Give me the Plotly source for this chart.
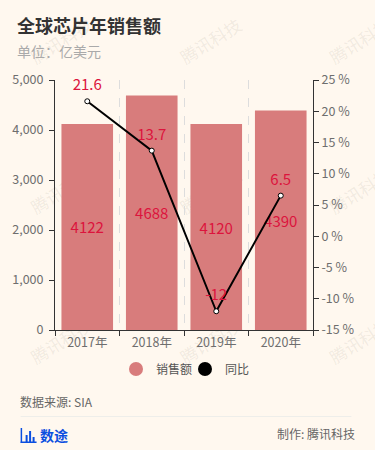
import plotly.graph_objects as go

categories = ["2017年", "2018年", "2019年", "2020年"]
sales = [4122, 4688, 4120, 4390]
yoy = [21.6, 13.7, -12, 6.5]
sales_labels = ["4122", "4688", "4120", "4390"]
yoy_labels = ["21.6", "13.7", "-12", "6.5"]
left_ticks = [0, 1000, 2000, 3000, 4000, 5000]
right_ticks = [-15, -10, -5, 0, 5, 10, 15, 20, 25]
right_labels = ["-15 %", "-10 %", "-5 %", "0 %", "5 %", "10 %", "15 %", "20 %", "25 %"]

W, H = 375, 450
L, R, T, B = 54.5, 313.5, 80, 330
FONT = "Noto Sans CJK SC"
BG = "#fff8ef"
AX = "#333333"
TICK = "#6e6e6e"
BAR = "#d87c7c"
RED = "#dc143c"
BLUE = "#0b4fe0"

def px(x):
    return (x - L) / (R - L)

def py(y):
    return (B - y) / (B - T)

fig = go.Figure()
fig.add_bar(x=categories, y=sales, width=0.8, marker=dict(color=BAR, line=dict(width=0)),
            text=sales_labels, textposition="inside", insidetextanchor="middle", constraintext="none",
            textangle=0, insidetextfont=dict(color=RED, size=15, family=FONT),
            showlegend=False, hoverinfo="skip", cliponaxis=False)
fig.add_scatter(x=categories, y=yoy, yaxis="y2", mode="lines+markers",
                line=dict(color="#000000", width=2),
                marker=dict(symbol="circle", size=5, color="#ffffff", line=dict(color="#000000", width=1)),
                showlegend=False, hoverinfo="skip", cliponaxis=False)
fig.add_scatter(x=categories, y=yoy, yaxis="y2", mode="markers+text",
                marker=dict(size=10, opacity=0),
                text=yoy_labels, textposition="top center",
                textfont=dict(color=RED, size=15, family=FONT),
                showlegend=False, hoverinfo="skip", cliponaxis=False)
fig.add_scatter(x=[None], y=[None], mode="markers", name="销售额",
                marker=dict(symbol="circle", size=14, color=BAR), hoverinfo="skip")
fig.add_scatter(x=[None], y=[None], mode="markers", name="同比",
                marker=dict(symbol="circle", size=14, color="#000000"), hoverinfo="skip")

shapes = [
    dict(type="line", xref="paper", yref="paper", x0=px(20), x1=px(352), y0=py(416.5), y1=py(416.5),
         line=dict(color="#eeeeea", width=1)),
]
for x0, x1, y0, y1 in [(20, 21.5, 428, 443), (20, 36, 441.5, 443), (25, 27, 435, 442),
                       (28.5, 30.5, 431, 442), (32, 34, 437, 442)]:
    shapes.append(dict(type="rect", xref="paper", yref="paper", x0=px(x0), x1=px(x1), y0=py(y0), y1=py(y1),
                       fillcolor=BLUE, line=dict(width=0), layer="above"))
for wx in [62, 212, 362]:
    for wy in [43, 193, 343]:
        shapes.append(dict(type="rect", xref="paper", yref="paper", layer="below",
                           x0=px(wx - 40), x1=px(wx + 40), y0=py(wy - 10), y1=py(wy + 10),
                           line=dict(width=0), fillcolor="rgba(0,0,0,0)",
                           label=dict(text="腾讯科技", textangle=-32, textposition="middle center",
                                      font=dict(family=FONT, size=17, color="rgba(120,110,100,0.11)"))))

def text(x, y, s, size, color, anchor="left", bold=False):
    return dict(xref="paper", yref="paper", x=px(x), y=py(y), text=f"<b>{s}</b>" if bold else s,
                showarrow=False, xanchor=anchor, yanchor="middle",
                font=dict(family=FONT, size=size, color=color))

annotations = [
    text(14.5, 25, "全球芯片年销售额", 18, "#333333", bold=True),
    text(14.5, 51, "单位：亿美元", 14, "#aaaaaa"),
    text(17.5, 401, "数据来源: SIA", 12, "#666666"),
    text(357.5, 433, "制作: 腾讯科技", 12, "#666666", anchor="right"),
    text(37.5, 435, "数途", 14, BLUE, bold=True),
]

fig.update_layout(
    width=W, height=H, autosize=False, showlegend=True,
    paper_bgcolor=BG, plot_bgcolor=BG,
    margin=dict(l=L, r=W - R, t=T, b=H - B, pad=0),
    font=dict(family=FONT, size=13, color=TICK),
    xaxis=dict(type="category", tickson="boundaries", ticks="outside", ticklen=5, tickcolor=AX, tickwidth=1,
               showline=True, linecolor=AX, linewidth=1, showgrid=True, gridcolor="#dddddd", griddash="dash",
               gridwidth=1, tickfont=dict(size=12.5, color=TICK, family=FONT), zeroline=False, fixedrange=True,
               ticklabelstandoff=1),
    yaxis=dict(range=[0, 5000], tickvals=left_ticks, tickformat=",d", ticks="outside",
               ticklen=5, tickcolor=AX, showline=True, linecolor=AX, linewidth=1, showgrid=False, zeroline=False,
               tickfont=dict(size=12.5, color=TICK, family=FONT), fixedrange=True, ticklabelstandoff=3),
    yaxis2=dict(range=[-15, 25], tickvals=right_ticks, ticktext=right_labels, overlaying="y",
                side="right", ticks="outside", ticklen=5, tickcolor=AX, showline=True, linecolor=AX, linewidth=1,
                showgrid=False, zeroline=False, tickfont=dict(size=12.5, color=TICK, family=FONT), fixedrange=True),
    legend=dict(orientation="h", xref="paper", yref="paper", x=px(185), xanchor="center", y=py(369), yanchor="middle",
                font=dict(size=12, color="#555555", family=FONT), bgcolor="rgba(0,0,0,0)", itemclick=False,
                itemdoubleclick=False, entrywidth=24, entrywidthmode="pixels"),
    shapes=shapes, annotations=annotations,
)

fig.write_html("out.html", config=dict(displayModeBar=False),
               post_script="document.body.style.margin='0';document.body.style.background='#fff8ef';")
